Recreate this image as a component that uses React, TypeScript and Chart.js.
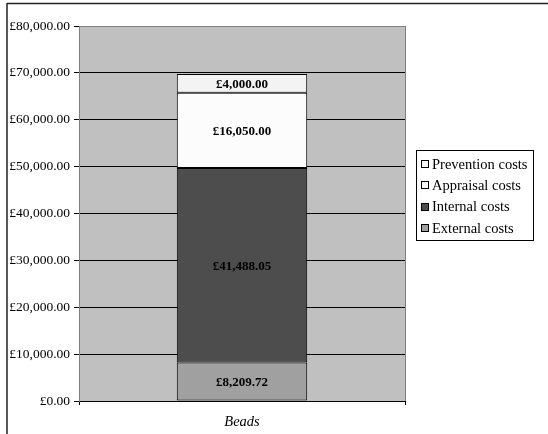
import React, { useEffect, useRef } from "react";
import { Chart, registerables } from "chart.js";

Chart.register(...registerables);

const categories = ["Beads"];
const seriesLabels = ["External costs", "Internal costs", "Appraisal costs", "Prevention costs"];
const externalCosts = [8209.72];
const internalCosts = [41488.05];
const appraisalCosts = [16050.0];
const preventionCosts = [4000.0];
const seriesColors = ["#A0A0A0", "#4D4D4D", "#FCFCFC", "#F3F3F3"];
const yTicksMin = 0;
const yTicksMax = 80000;
const yStep = 10000;

const SERIF = '"Liberation Serif", "Times New Roman", serif';

const fmt = (v: number) =>
  "£" + v.toLocaleString("en-GB", { minimumFractionDigits: 2, maximumFractionDigits: 2 });

export default function App() {
  const ref = useRef<HTMLCanvasElement | null>(null);

  useEffect(() => {
    document.body.style.margin = "0";
    const canvas = ref.current!;
    const decor = {
      id: "decor",
      beforeDraw(chart: any) {
        const { ctx, chartArea: a } = chart;
        ctx.save();
        ctx.fillStyle = "#ffffff";
        ctx.fillRect(0, 0, chart.width, chart.height);
        ctx.fillStyle = "#C0C0C0";
        ctx.fillRect(a.left, a.top, a.right - a.left, a.bottom - a.top);
        ctx.strokeStyle = "#808080";
        ctx.lineWidth = 1;
        ctx.beginPath();
        ctx.moveTo(Math.round(a.right) + 0.5, a.top);
        ctx.lineTo(Math.round(a.right) + 0.5, a.bottom);
        ctx.stroke();
        // outer frame (top & left)
        ctx.strokeStyle = "#222";
        ctx.lineWidth = 1.5;
        ctx.beginPath();
        ctx.moveTo(7, 3.5);
        ctx.lineTo(chart.width, 3.5);
        ctx.moveTo(7, 3);
        ctx.lineTo(7, chart.height);
        ctx.stroke();
        ctx.restore();
      },
      afterDatasetsDraw(chart: any) {
        const { ctx } = chart;
        ctx.save();
        ctx.font = `bold 13px ${SERIF}`;
        ctx.fillStyle = "#000";
        ctx.textAlign = "center";
        ctx.textBaseline = "middle";
        chart.data.datasets.forEach((ds: any, i: number) => {
          const meta = chart.getDatasetMeta(i);
          meta.data.forEach((el: any, j: number) => {
            const v = ds.data[j];
            ctx.fillText(fmt(v), el.x, (el.y + el.base) / 2 + 1);
          });
        });
        ctx.restore();
      },
      afterDraw(chart: any) {
        const { ctx } = chart;
        ctx.save();
        const lx = 416, ly = 150, lw = 117, lh = 90;
        ctx.fillStyle = "#fff";
        ctx.fillRect(lx, ly, lw, lh);
        ctx.strokeStyle = "#000";
        ctx.lineWidth = 1;
        ctx.strokeRect(lx + 0.5, ly + 0.5, lw, lh);
        const ds = chart.data.datasets.slice().reverse();
        ctx.font = `14.5px ${SERIF}`;
        ctx.textBaseline = "middle";
        ctx.textAlign = "left";
        ds.forEach((d: any, i: number) => {
          const y = 164 + i * 21.3;
          ctx.fillStyle = d.backgroundColor;
          ctx.fillRect(421, Math.round(y - 4), 7, 7);
          ctx.strokeStyle = "#000";
          ctx.strokeRect(421.5, Math.round(y - 4) + 0.5, 7, 7);
          ctx.fillStyle = "#000";
          ctx.fillText(d.label, 432, y + 1);
        });
        ctx.restore();
      },
    };

    const values = [externalCosts, internalCosts, appraisalCosts, preventionCosts];
    const chart = new Chart(canvas, {
      type: "bar",
      data: {
        labels: categories,
        datasets: seriesLabels.map((label, i) => ({
          label,
          data: values[i],
          backgroundColor: seriesColors[i],
          borderColor: "#000",
          borderWidth: 1,
          borderSkipped: false,
          barPercentage: 0.4,
          categoryPercentage: 1,
        })),
      },
      options: {
        animation: false,
        responsive: false,
        devicePixelRatio: 1,
        layout: { padding: { top: 26, right: 143, bottom: 0, left: 0 } },
        plugins: { legend: { display: false }, tooltip: { enabled: false } },
        scales: {
          x: {
            stacked: true,
            grid: {
              display: true,
              drawOnChartArea: false,
              drawTicks: true,
              tickLength: 4,
              offset: true,
              color: "#000",
              tickColor: "#000",
            },
            border: { display: true, color: "#000" },
            ticks: {
              color: "#000",
              padding: 8,
              font: { family: SERIF, size: 14.5, style: "italic" },
            },
            afterFit(scale: any) {
              scale.height = 33;
            },
          },
          y: {
            stacked: true,
            min: yTicksMin,
            max: yTicksMax,
            ticks: {
              stepSize: yStep,
              color: "#000",
              padding: 4,
              font: { family: SERIF, size: 13.5 },
              callback: (v: any) => fmt(Number(v)),
            },
            grid: {
              color: (c: any) => (c.tick && c.tick.value === yTicksMax ? "#808080" : "#000"),
              tickColor: "#000",
              tickLength: 5,
            },
            border: { display: true, color: "#808080" },
            afterFit(scale: any) {
              scale.width = 79;
            },
          },
        },
      },
      plugins: [decor],
    });
    return () => chart.destroy();
  }, []);

  return (
    <div style={{ width: 548, height: 434 }}>
      <canvas ref={ref} width={548} height={434} style={{ display: "block", width: 548, height: 434 }} />
    </div>
  );
}
